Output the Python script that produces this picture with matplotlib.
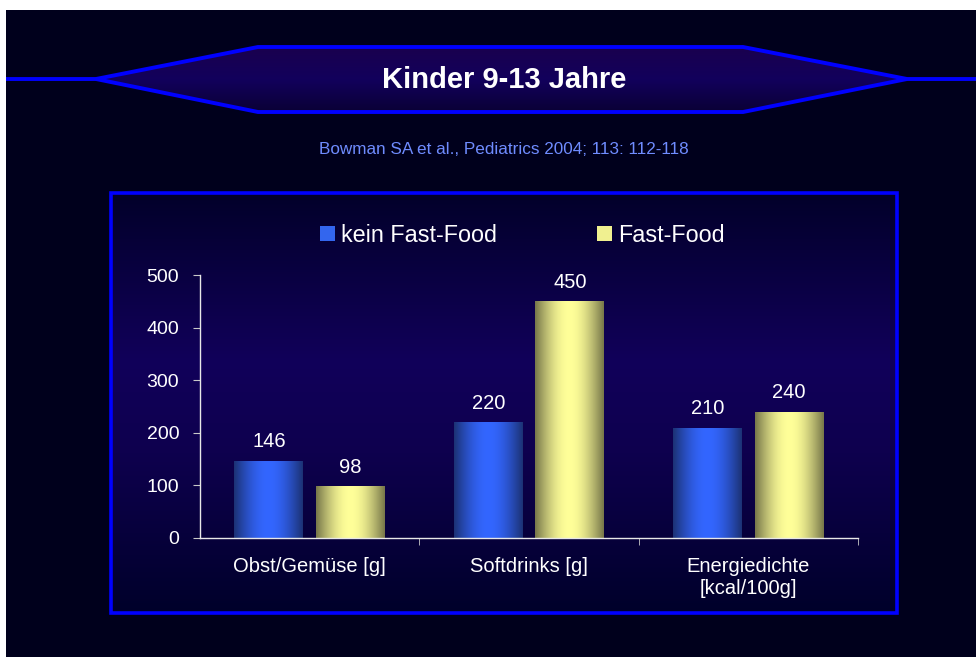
import numpy as np
import matplotlib
matplotlib.use("Agg")
import matplotlib.pyplot as plt
from matplotlib.patches import Polygon, Rectangle, Patch
from matplotlib.colors import LinearSegmentedColormap

plt.rcParams['font.family'] = ['Liberation Sans', 'DejaVu Sans']

# ---- data ----
title = "Kinder 9-13 Jahre"
subtitle = "Bowman SA et al., Pediatrics 2004; 113: 112-118"
categories = ["Obst/Gemüse [g]", "Softdrinks [g]", "Energiedichte\n[kcal/100g]"]
series_names = ["kein Fast-Food", "Fast-Food"]
no_fastfood = [146, 220, 210]
fastfood = [98, 450, 240]
yticks = [0, 100, 200, 300, 400, 500]

W, H = 976, 657
fig = plt.figure(figsize=(W / 100, H / 100), dpi=100)
fig.patch.set_facecolor('white')

# ---- background layer in pixel coordinates ----
bg = fig.add_axes([0, 0, 1, 1])
bg.set_xlim(0, W)
bg.set_ylim(H, 0)
bg.axis('off')
bg.add_patch(Rectangle((6, 10), W - 6, H - 10, facecolor='#00001c', edgecolor='none', zorder=0))

# chart box gradient
box_cmap = LinearSegmentedColormap.from_list('box', [(0, '#02002a'), (0.4, '#11005a'),
                                                      (0.62, '#0e004e'), (1.0, '#00002a')])
box = Rectangle((111, 193), 786, 420, facecolor='none', edgecolor='none')
bg.add_patch(box)
grad = np.linspace(0, 1, 256).reshape(-1, 1)
im = bg.imshow(grad, cmap=box_cmap, extent=(111, 897, 613, 193), origin='upper',
               aspect='auto', zorder=1)
im.set_clip_path(box)
bg.add_patch(Rectangle((111, 193), 786, 420, facecolor='none', edgecolor='#0000ff',
                       linewidth=2.6, zorder=2))

# banner
ban_pts = [(96, 79), (258, 47), (743, 47), (907, 79), (743, 112), (258, 112)]
ban = Polygon(ban_pts, closed=True, facecolor='none', edgecolor='none')
bg.add_patch(ban)
ban_cmap = LinearSegmentedColormap.from_list('ban', [(0, '#1a004e'), (0.5, '#12005c'), (1.0, '#0a0035')])
im2 = bg.imshow(grad, cmap=ban_cmap, extent=(96, 907, 112, 47), origin='upper',
                aspect='auto', zorder=3)
im2.set_clip_path(ban)
bg.add_patch(Polygon(ban_pts, closed=True, facecolor='none', edgecolor='#0000ff',
                     linewidth=2.8, zorder=4))
bg.plot([6, 96], [79, 79], color='#0000ff', linewidth=2.8, zorder=4, solid_capstyle='butt')
bg.plot([907, W], [79, 79], color='#0000ff', linewidth=2.8, zorder=4, solid_capstyle='butt')
bg.set_xlim(0, W)
bg.set_ylim(H, 0)

bg.text(504, 80, title, color='white', fontsize=21, fontweight='bold',
        ha='center', va='center', zorder=5)
bg.text(504, 150, subtitle, color='#6f8cff', fontsize=12.3, ha='center', va='center', zorder=5)

# ---- main chart ----
ax = fig.add_axes([200 / W, (H - 538) / H, 658 / W, 263 / H])
ax.set_facecolor('none')
x = np.arange(len(categories))
bw = 0.314
off = 0.186

blue_cmap = LinearSegmentedColormap.from_list('b', [(0, '#1c3274'), (0.5, '#3366ff'), (1, '#1c3274')])
yel_cmap = LinearSegmentedColormap.from_list('y', [(0, '#77774a'), (0.5, '#ffff99'), (1, '#77774a')])
hgrad = np.sin(np.linspace(0, np.pi, 256))
hgrad = (hgrad / 2).reshape(1, -1)

b1 = ax.bar(x - off, no_fastfood, bw, color='none', edgecolor='none', label=series_names[0])
b2 = ax.bar(x + off, fastfood, bw, color='none', edgecolor='none', label=series_names[1])
for bars, cm in ((b1, blue_cmap), (b2, yel_cmap)):
    for p in bars:
        x0, y0 = p.get_x(), p.get_y()
        w, h = p.get_width(), p.get_height()
        imb = ax.imshow(hgrad, cmap=cm, extent=(x0, x0 + w, y0, y0 + h), aspect='auto',
                        origin='lower', zorder=2, vmin=0, vmax=1)
        imb.set_clip_path(p)
    ax.bar_label(bars, padding=7, color='white', fontsize=14.5)

ax.set_xlim(-0.5, 2.5)
ax.set_ylim(0, 500)
ax.set_yticks(yticks)
ax.set_xticks(x)
ax.set_xticklabels(categories)
ax.set_xticks([0.5, 1.5, 2.5], minor=True)
ax.tick_params(axis='x', which='major', length=0, pad=13.5, labelsize=14.5, colors='white')
ax.tick_params(axis='x', which='minor', length=5, color='#c8c8c8', direction='out')
ax.tick_params(axis='y', length=5, color='#c8c8c8', labelsize=14, labelcolor='white', pad=10)
for s in ('top', 'right'):
    ax.spines[s].set_visible(False)
for s in ('left', 'bottom'):
    ax.spines[s].set_color('#e8e8e8')
    ax.spines[s].set_linewidth(1)

handles = [Patch(facecolor='#3366ee', edgecolor='none', label=series_names[0]),
           Patch(facecolor='#f0f090', edgecolor='none', label=series_names[1])]
leg = ax.legend(handles=handles, loc='center', bbox_to_anchor=(0.49, 1.152), ncol=2,
                frameon=False, fontsize=16.8, labelcolor='white', handlelength=0.64,
                handleheight=0.64, handletextpad=0.26, columnspacing=4.3)

fig.savefig('out.png', dpi=100, facecolor=fig.get_facecolor())
